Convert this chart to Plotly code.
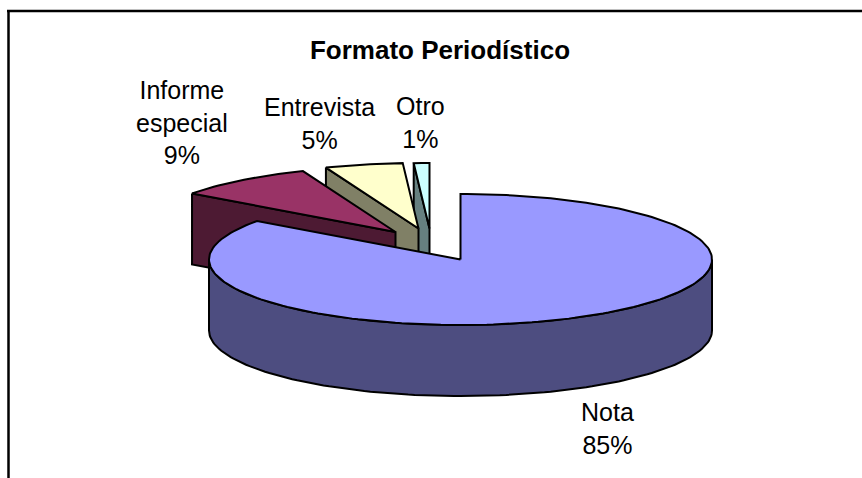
import math
import plotly.graph_objects as go

# --- data ---
categories = ["Nota", "Informe<br>especial", "Entrevista", "Otro"]
values = [85, 9, 5, 1]
title_text = "Formato Periodístico"

# --- styles / geometry (pixels of the 862x478 page) ---
top_colors = ["#9999FF", "#993366", "#FFFFCC", "#CCFFFF"]
side_colors = ["#4D4D80", "#4D1A33", "#808066", "#668080"]
CX, CY, RX, RY, DEPTH = 460.5, 259.5, 251.5, 65.5, 71
explode_dx = [0, -65, -42, -31]
explode_dy = [0, -27.5, -31, -31]
label_x = [607, 182, 319, 420]
label_y = [428, 122, 123, 122]


def rim(a, dx=0, dy=0, z=0):
    r = math.radians(a)
    return CX + dx + RX * math.sin(r), CY + dy - RY * math.cos(r) + z


def arc(a0, a1, dx=0, dy=0, z=0):
    n = max(2, int(abs(a1 - a0) / 1.5))
    return [rim(a0 + (a1 - a0) * i / n, dx, dy, z) for i in range(n + 1)]


fig = go.Figure()


def poly(points, color):
    fig.add_trace(go.Scatter(
        x=[p[0] for p in points] + [points[0][0]],
        y=[p[1] for p in points] + [points[0][1]],
        mode="lines", fill="toself", fillcolor=color,
        line=dict(color="black", width=2), hoverinfo="skip", showlegend=False,
    ))


total = sum(values)
angles = [0]
for v in values:
    angles.append(angles[-1] + 360 * v / total)

# exploded slices, drawn back to front: Otro, Entrevista, Informe
for i in [3, 2, 1]:
    a0, a1 = angles[i], angles[i + 1]
    dx, dy = explode_dx[i], explode_dy[i]
    apex = (CX + dx, CY + dy)
    left = rim(a0, dx, dy)
    poly([left, apex, (apex[0], apex[1] + DEPTH), (left[0], left[1] + DEPTH)], side_colors[i])
    poly([apex] + arc(a0, a1, dx, dy), top_colors[i])

# main slice: wall, then top
a1 = angles[1]
poly(arc(90, 270) + arc(270, 90, z=DEPTH), side_colors[0])
poly([(CX, CY)] + arc(0, a1), top_colors[0])

for c, v, x, y in zip(categories, values, label_x, label_y):
    fig.add_annotation(x=x, y=y, text=f"{c}<br>{v}%", showarrow=False, align="center",
                       xanchor="center", yanchor="middle",
                       font=dict(family="Liberation Sans, Arial", size=25, color="black"))

fig.update_layout(
    width=862, height=478, margin=dict(l=0, r=0, t=0, b=0),
    paper_bgcolor="white", plot_bgcolor="white", showlegend=False,
    title=dict(text=f"<b>{title_text}</b>", x=440 / 862, y=1 - 50 / 478, xanchor="center", yanchor="middle",
               font=dict(family="Liberation Sans, Arial", size=26, color="black")),
    xaxis=dict(range=[0, 862], visible=False, fixedrange=True),
    yaxis=dict(range=[478, 0], visible=False, fixedrange=True),
    shapes=[
        dict(type="line", x0=8.5, x1=8.5, y0=11, y1=478, line=dict(color="black", width=2.5)),
        dict(type="line", x0=7, x1=862, y0=11, y1=11, line=dict(color="black", width=2.5)),
    ],
)

fig.write_html("out.html", config=dict(displayModeBar=False),
               post_script="document.body.style.margin='0';document.body.style.overflow='hidden';")
